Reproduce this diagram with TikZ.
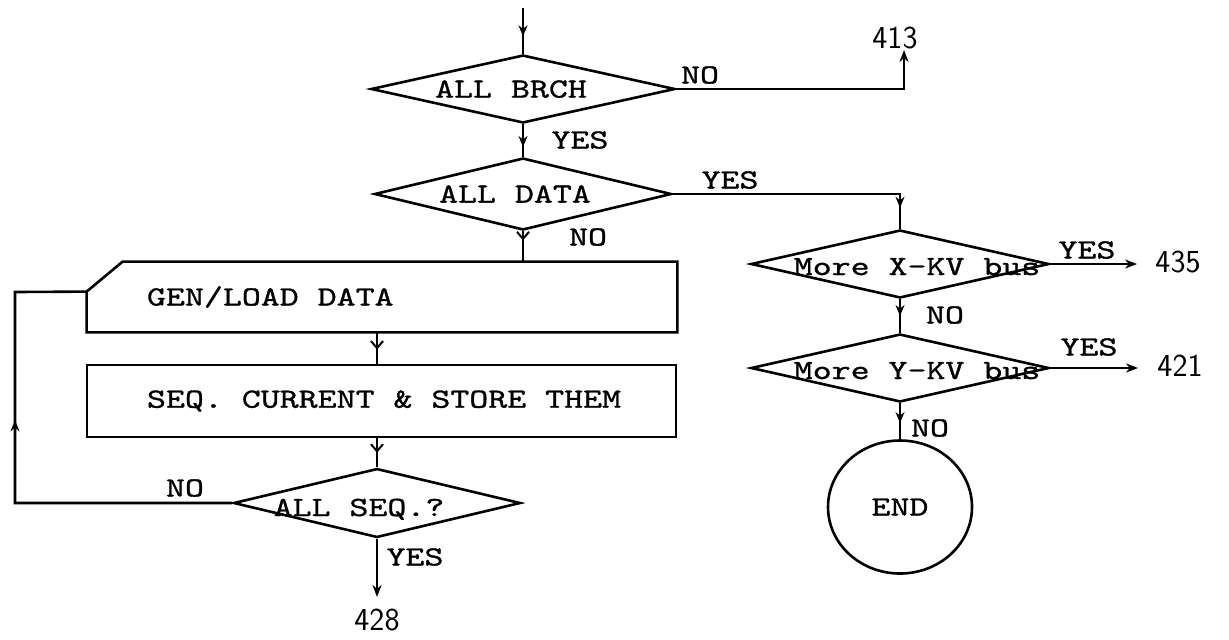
\documentclass[tikz,border=0pt]{standalone}
\usepackage{fontspec}
\usetikzlibrary{shapes.geometric,arrows.meta,decorations.markings,calc}
\newfontfamily\twfam{lmmono10-regular}[Extension=.otf,FakeStretch=1.3,FakeBold=1]
\newcommand\mytw{\twfam\fontsize{13.9}{16}\selectfont\frenchspacing\spaceskip=0.68em\relax}
\newcommand\mynum{\sffamily\fontsize{16}{19}\selectfont}
\newcommand\zt[3][0pt]{\smash{\makebox[0pt]{\kern#1\relax\raisebox{#2}{#3}}}}
\tikzset{
  dec/.style={diamond, draw, line width=1.3pt, inner sep=0pt, font=\mytw},
  pbox/.style={rectangle, inner sep=0pt, font=\mytw},
  conn/.style={line width=1.3pt},
  midarrow/.style={postaction={decorate}, decoration={markings, mark=at position #1 with {\arrow{Stealth[length=5.5pt,width=4.5pt]}}}},
  midbarb/.style={postaction={decorate}, decoration={markings, mark=at position #1 with {\arrow{Straight Barb[length=3.5pt,width=6pt,line width=1pt]}}}},
  endarrow/.style={-{Stealth[length=6pt,width=4.5pt]}},
  lbl/.style={font=\mytw, inner sep=0pt},
  num/.style={font=\mynum, inner sep=0pt}
}
\begin{document}
\begin{tikzpicture}[x=0.5pt,y=-0.5pt]
\useasboundingbox[fill=white] (0,0) rectangle (1229,639);
% decisions and boxes
\node[dec, minimum width=152pt, minimum height=34pt] (brch) at (523,89) {\zt[-12pt]{-4.3pt}{ALL BRCH}};
\node[dec, minimum width=148.5pt, minimum height=36pt] (data) at (523,194) {\zt[-8pt]{-4.3pt}{ALL DATA}};
\node[pbox, minimum width=295pt, minimum height=35pt] (gen) at (382,297) {\makebox[235pt][l]{\raisebox{-2.5pt}{GEN/LOAD DATA}}};
\node[pbox, draw, line width=1.3pt, minimum width=294.5pt, minimum height=36pt] (seq) at (381.5,401) {\makebox[234.5pt][l]{SEQ. CURRENT \& STORE THEM}};
\node[dec, minimum width=143.5pt, minimum height=34.5pt] (alls) at (377,503) {\zt[-18pt]{-6.5pt}{ALL SEQ.?}};
\node[dec, minimum width=149pt, minimum height=34pt] (xkv) at (900,264) {\zt[17pt]{-5.5pt}{More X-KV bus}};
\node[dec, minimum width=149pt, minimum height=34pt] (ykv) at (900,368) {\zt[17pt]{-5.5pt}{More Y-KV bus}};
\node[ellipse, draw, line width=1.3pt, minimum width=72pt, minimum height=66.5pt, inner sep=0pt, font=\mytw] (end) at (900,507) {END};
% GEN/LOAD outline with cut corner
\coordinate (genin) at ([yshift=-15pt]gen.north west);
\draw[conn] (gen.south west) -- (genin) -- ([xshift=18pt]gen.north west) -- (gen.north east) -- (gen.south east) -- cycle;
% free ends
\coordinate (start) at (523,8);
\coordinate (t413) at (904,50);
\coordinate (loopc) at (15,292);
\coordinate (t428) at (377,597);
\coordinate (t435) at (1137,264);
\coordinate (t421) at (1138,368);
% connectors
\draw[conn, midarrow=0.62] (start) -- (brch.north);
\draw[conn, endarrow] (brch.east) -| (t413);
\draw[conn, midarrow=0.7] (brch.south) -- (data.north);
\draw[conn, midarrow=0.92] (data.east) -| (xkv.north);
\draw[conn, midbarb=0.3] (data.south) -- (data.south |- gen.north);
\draw[conn, midbarb=0.55] (gen.south -| alls.north) -- (seq.north -| alls.north);
\draw[conn, midbarb=0.5] (seq.south -| alls.north) -- (alls.north);
\draw[conn, midarrow=0.6] (alls.west) -| (loopc) -- (genin);
\draw[conn, endarrow] (alls.south) -- (t428);
\draw[conn, endarrow] (xkv.east) -- (t435);
\draw[conn, midarrow=0.5] (xkv.south) -- (ykv.north);
\draw[conn, endarrow] (ykv.east) -- (t421);
\draw[conn, midarrow=0.55] (ykv.south) -- (end.north);
% labels
\node[lbl] (l1) at (700,75) {NO};
\node[num] (n413) at (895,38) {413};
\node[lbl] (l2) at (580,140) {YES};
\node[lbl] (l3) at (730,180) {YES};
\node[lbl] (l4) at (588,237) {NO};
\node[lbl] (l5) at (185,488) {NO};
\node[lbl] (l6) at (415,557) {YES};
\node[num] (n428) at (377,620) {428};
\node[lbl] (l7) at (1087,250) {YES};
\node[num] (n435) at (1178,262) {435};
\node[lbl] (l8) at (945,315) {NO};
\node[lbl] (l9) at (1089,347) {YES};
\node[num] (n421) at (1180,366) {421};
\node[lbl] (l10) at (930,428) {NO};
\end{tikzpicture}
\end{document}
